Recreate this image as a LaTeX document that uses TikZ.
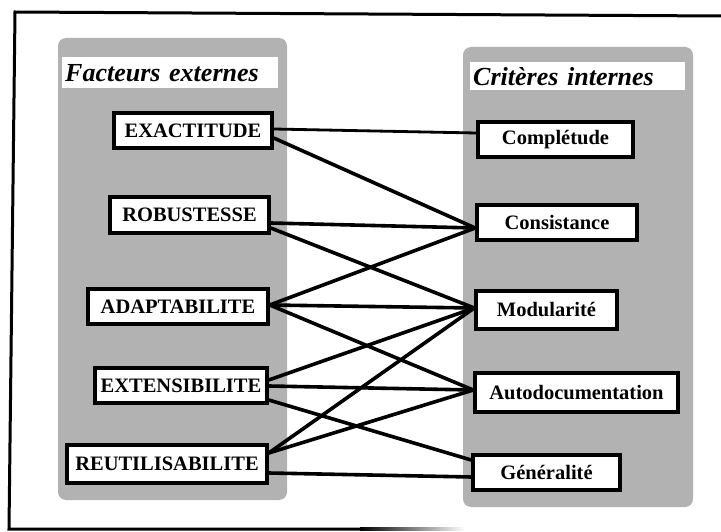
\documentclass[tikz,border=0pt]{standalone}
\usepackage{fontspec}
\setmainfont{Liberation Serif}
\begin{document}
\begin{tikzpicture}[x=1pt,y=-1pt,
  panel/.style={fill=black!30, draw=none, rounded corners=8pt},
  hdr/.style={fill=white, draw=none, anchor=north west, inner xsep=3pt, inner ysep=0pt, align=left,
     font=\fontsize{26}{28}\selectfont\bfseries\itshape},
  fbox/.style={draw=black, line width=3.5pt, fill=white, inner sep=0pt,
     font=\fontsize{20.5}{22}\selectfont\bfseries},
  link/.style={line width=3.6pt},
  thinlink/.style={line width=2.8pt}]
\useasboundingbox (0,0) rectangle (721,532);
% outer frame (open on the right, as scanned)
\draw[line width=3pt] (721,16) -- (15,12) -- (9,529) -- (360,529);
\shade[left color=black, right color=white] (360,527.5) rectangle (465,530.5);
% panels
\fill[panel] (58,38) rectangle (287,500);
\fill[panel] (463,47) rectangle (693,507);
\node[hdr, text width=210pt, minimum height=31pt] (hl) at (62,57) {Facteurs externes};
\node[hdr, text width=209pt, minimum height=28pt] (hr) at (470,62) {Critères internes};
% left boxes
\node[fbox, minimum width=158pt, minimum height=35pt] (exa) at (193,130.5) {EXACTITUDE};
\node[fbox, minimum width=159pt, minimum height=36pt] (rob) at (189.5,215) {ROBUSTESSE};
\node[fbox, minimum width=180pt, minimum height=35pt] (ada) at (178,306.5) {ADAPTABILITE};
\node[fbox, minimum width=172pt, minimum height=35pt] (ext) at (181,385.5) {EXTENSIBILITE};
\node[fbox, minimum width=200pt, minimum height=38pt] (reu) at (167,464) {REUTILISABILITE};
% right boxes
\node[fbox, minimum width=155pt, minimum height=35pt] (com) at (555.5,139.5) {Complétude};
\node[fbox, minimum width=160pt, minimum height=35pt] (con) at (557,222.5) {Consistance};
\node[fbox, minimum width=141pt, minimum height=38pt] (mod) at (546.5,310) {Modularité};
\node[fbox, minimum width=203pt, minimum height=39pt] (aut) at (576.5,392.5) {Autodocumentation};
\node[fbox, minimum width=147pt, minimum height=35pt] (gen) at (546.5,472.5) {Généralité};
% connectors
\draw[thinlink] ([yshift=1.5pt]exa.east) -- ([yshift=6.5pt]com.west);
\draw[link] ([yshift=-7.5pt]exa.east) -- ([yshift=-5.5pt]con.west);
\draw[link] ([yshift=-8pt]rob.east) -- ([yshift=-5.5pt]con.west);
\draw[link] ([yshift=-13pt]rob.east) -- ([yshift=2pt]mod.west);
\draw[link] ([yshift=1.5pt]ada.east) -- ([yshift=-5.5pt]con.west);
\draw[link] ([yshift=1.5pt]ada.east) -- ([yshift=2pt]mod.west);
\draw[link] ([yshift=1.5pt]ada.east) -- ([yshift=2.5pt]aut.west);
\draw[link] ([yshift=5.5pt]ext.east) -- ([yshift=2pt]mod.west);
\draw[link] ([yshift=-0.5pt]ext.east) -- ([yshift=2.5pt]aut.west);
\draw[link] ([yshift=-14.5pt]ext.east) -- ([yshift=12.5pt]gen.west);
\draw[link] ([yshift=11pt]reu.east) -- ([yshift=2pt]mod.west);
\draw[link] ([yshift=11pt]reu.east) -- ([yshift=2.5pt]aut.west);
\draw[link] ([yshift=-9pt]reu.east) -- ([yshift=-4.5pt]gen.west);
\end{tikzpicture}
\end{document}
